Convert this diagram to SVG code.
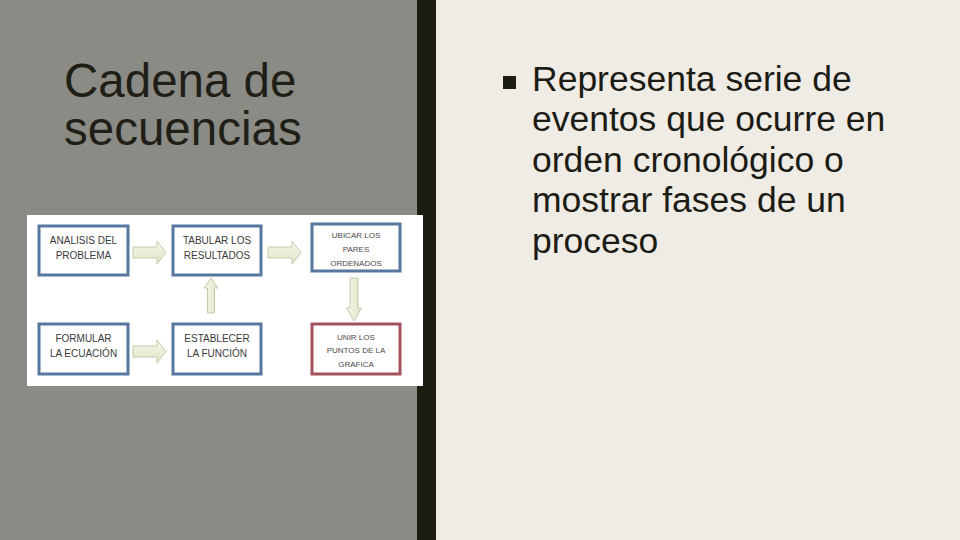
<svg xmlns="http://www.w3.org/2000/svg" width="960" height="540" viewBox="0 0 960 540">
<defs>
<linearGradient id="ag" x1="0" y1="0" x2="0" y2="1">
<stop offset="0" stop-color="#f6f8ea"/>
<stop offset="1" stop-color="#dfe6c8"/>
</linearGradient>
<linearGradient id="agv" x1="0" y1="0" x2="1" y2="0">
<stop offset="0" stop-color="#f6f8ea"/>
<stop offset="1" stop-color="#dfe6c8"/>
</linearGradient>
</defs>
<style>
.title{font-family:"Liberation Sans",Arial,sans-serif;font-size:47.5px;fill:#1f1f17}
.body{font-family:"Liberation Sans",Arial,sans-serif;font-size:35.5px;fill:#1c1c14}
.box{fill:#ffffff;stroke:#57779f;stroke-width:3}
.boxr{fill:#ffffff;stroke:#a2525c;stroke-width:3}
.lbl{font-family:"Liberation Sans",Arial,sans-serif;font-size:10px;fill:#3a3a3a;text-anchor:middle}
.lbls{font-family:"Liberation Sans",Arial,sans-serif;font-size:8px;fill:#4a4a4a;text-anchor:middle}
.arr{fill:url(#ag);stroke:#c3cbae;stroke-width:1}
.arrv{fill:url(#agv);stroke:#c3cbae;stroke-width:1}
</style>
<rect x="0" y="0" width="417" height="540" fill="#8a8b85"/>
<rect x="417" y="0" width="19" height="540" fill="#1c1c11"/>
<rect x="436" y="0" width="524" height="540" fill="#efebe5"/>
<text class="title" x="64" y="97">Cadena de</text>
<text class="title" x="64" y="145">secuencias</text>
<rect x="503" y="76" width="13" height="13" fill="#1c1c14"/>
<text class="body" x="532" y="91">Representa serie de</text>
<text class="body" x="532" y="131">eventos que ocurre en</text>
<text class="body" x="532" y="172">orden cronológico o</text>
<text class="body" x="532" y="212">mostrar fases de un</text>
<text class="body" x="532" y="253">proceso</text>
<rect x="27" y="215" width="396" height="171" fill="#ffffff"/>
<g id="connectors">
<path class="arr" d="M133,247 H157 V241 L166,252.5 L157,264 V258 H133 Z"/>
<path class="arr" d="M268,247 H292 V241 L301,252.5 L292,264 V258 H268 Z"/>
<path class="arr" d="M133,346 H157 V340 L166,351.5 L157,363 V357 H133 Z"/>
<path class="arrv" d="M207.5,313 V288 H204 L211,278 L218,288 H214.5 V313 Z"/>
<path class="arrv" d="M350,278 V308 H346.5 L354,321 L361.5,308 H358 V278 Z"/>
</g>
<g id="n1"><rect class="box" x="39" y="226" width="89" height="49"/><text class="lbl" x="83.5" y="244">ANALISIS DEL</text><text class="lbl" x="83.5" y="259">PROBLEMA</text></g>
<g id="n2"><rect class="box" x="173" y="226" width="88" height="49"/><text class="lbl" x="217" y="244">TABULAR LOS</text><text class="lbl" x="217" y="259">RESULTADOS</text></g>
<g id="n3"><rect class="box" x="312" y="224" width="88" height="47"/><text class="lbls" x="356" y="238">UBICAR LOS</text><text class="lbls" x="356" y="252">PARES</text><text class="lbls" x="356" y="266">ORDENADOS</text></g>
<g id="n4"><rect class="box" x="39" y="324" width="89" height="50"/><text class="lbl" x="83.5" y="342">FORMULAR</text><text class="lbl" x="83.5" y="357">LA ECUACIÓN</text></g>
<g id="n5"><rect class="box" x="173" y="324" width="88" height="50"/><text class="lbl" x="217" y="342">ESTABLECER</text><text class="lbl" x="217" y="357">LA FUNCIÓN</text></g>
<g id="n6"><rect class="boxr" x="312" y="324" width="88" height="50"/><text class="lbls" x="356" y="340">UNIR LOS</text><text class="lbls" x="356" y="353">PUNTOS DE LA</text><text class="lbls" x="356" y="367">GRAFICA</text></g>
</svg>
